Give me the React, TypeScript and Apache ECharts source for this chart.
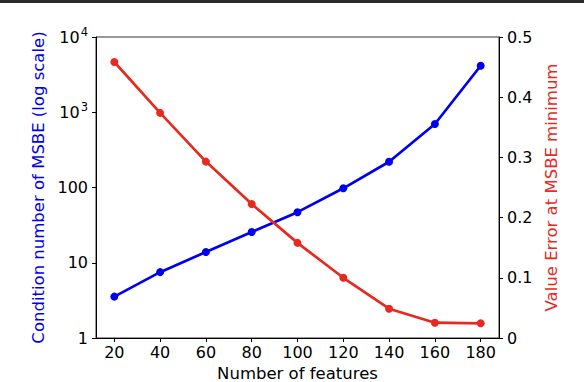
import React, { useEffect, useRef } from "react";
import * as echarts from "echarts";

const features = [20, 40, 60, 80, 100, 120, 140, 160, 180];
const conditionNumber = [3.55, 7.5, 13.9, 25.6, 47, 97.6, 220, 698, 4150];
const valueError = [0.4585, 0.374, 0.293, 0.2226, 0.158, 0.1, 0.0487, 0.0254, 0.0244];

const FONT = "DejaVu Sans";
const BLUE = "#0000f0";
const RED = "#e8291f";

export default function App() {
  const ref = useRef<HTMLDivElement>(null);
  useEffect(() => {
    const chart = echarts.init(ref.current!, null, { renderer: "svg" });
    chart.setOption({
      animation: false,
      backgroundColor: "#fff",
      textStyle: { fontFamily: FONT },
      graphic: [
        { type: "rect", left: 0, top: 0, shape: { x: 0, y: 0, width: 584, height: 3 }, style: { fill: "#2a2a2a" } },
      ],
      grid: {
        left: 96, right: 85, top: 37, bottom: 44,
        outerBoundsMode: "none",
        containLabel: false,
        show: true, borderColor: "#333", borderWidth: 1,
      },
      xAxis: {
        type: "value",
        min: 12,
        max: 188,
        name: "Number of features",
        nameLocation: "middle",
        nameGap: 25,
        nameTextStyle: { fontSize: 16.5, color: "#000", fontFamily: FONT },
        axisLine: { lineStyle: { color: "#000", width: 1 } },
        axisTick: { show: true, length: 4, lineStyle: { color: "#000" }, customValues: features },
        axisLabel: { fontSize: 16, color: "#000", margin: 6, fontFamily: FONT, customValues: features },
        splitLine: { show: false },
      },
      yAxis: [
        {
          type: "log",
          logBase: 10,
          min: 1,
          max: 10000,
          name: "Condition number of MSBE (log scale)",
          nameLocation: "middle",
          nameGap: 48,
          nameTextStyle: { fontSize: 16.5, color: BLUE, fontFamily: FONT },
          axisLine: { show: true, lineStyle: { color: "#000", width: 1 } },
          axisTick: { show: true, length: 4, lineStyle: { color: "#000" } },
          minorTick: { show: false },
          splitLine: { show: false },
          axisLabel: {
            margin: 8,
            color: "#000",
            fontSize: 16,
            fontFamily: FONT,
            formatter: (v: number) => {
              if (v >= 1000) {
                const e = Math.round(Math.log10(v));
                return "{b|10}{s|" + e + "}";
              }
              return "{b|" + v + "}";
            },
            rich: {
              b: { fontSize: 16, fontFamily: FONT, color: "#000" },
              s: { fontSize: 11.5, fontFamily: FONT, color: "#000", padding: [0, 0, 10, 1] },
            },
          },
        },
        {
          type: "value",
          min: 0,
          max: 0.5,
          interval: 0.1,
          position: "right",
          name: "Value Error at MSBE minimum",
          nameLocation: "middle",
          nameGap: 39,
          nameRotate: 90,
          nameTextStyle: { fontSize: 16.5, color: RED, fontFamily: FONT },
          axisLine: { show: true, lineStyle: { color: "#000", width: 1 } },
          axisTick: { show: true, length: 4, lineStyle: { color: "#000" } },
          splitLine: { show: false },
          axisLabel: { fontSize: 16, color: "#000", margin: 8, fontFamily: FONT },
        },
      ],
      series: [
        {
          type: "line",
          yAxisIndex: 0,
          data: features.map((f, i) => [f, conditionNumber[i]]),
          lineStyle: { color: BLUE, width: 2.7 },
          itemStyle: { color: BLUE },
          symbol: "circle",
          symbolSize: 8,
        },
        {
          type: "line",
          yAxisIndex: 1,
          data: features.map((f, i) => [f, valueError[i]]),
          lineStyle: { color: RED, width: 2.7 },
          itemStyle: { color: RED },
          symbol: "circle",
          symbolSize: 8,
        },
      ],
    });
    return () => chart.dispose();
  }, []);
  return (
    <div
      ref={ref}
      style={{ position: "absolute", left: 0, top: 0, width: 584, height: 382 }}
    />
  );
}
